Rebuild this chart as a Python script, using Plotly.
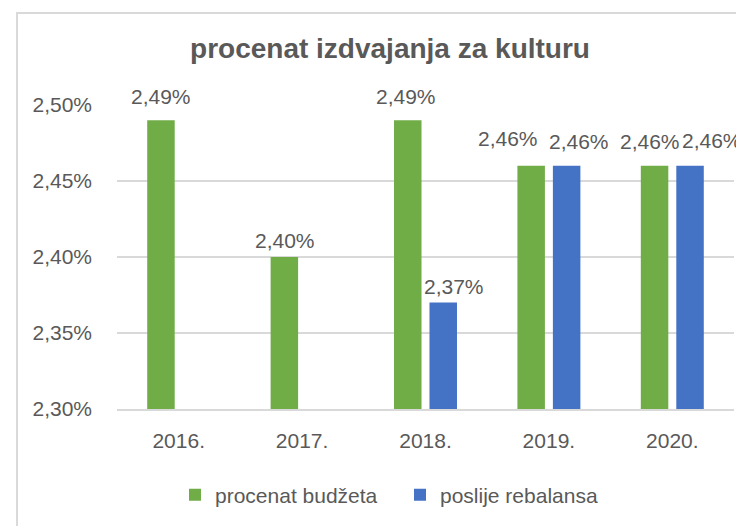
import plotly.graph_objects as go

# data
years = ["2016.", "2017.", "2018.", "2019.", "2020."]
procenat_budzeta = [0.0249, 0.0240, 0.0249, 0.0246, 0.0246]
poslije_rebalansa = [None, None, 0.0237, 0.0246, 0.0246]

Y_MIN, Y_MAX = 0.0230, 0.0250
GREEN, BLUE = "#70AD47", "#4472C4"
TEXT, GRID = "#595959", "#D9D9D9"
FONT = "Liberation Sans"

# page body has an 8px margin, so the figure is 8px smaller and offsets are shifted
W, H = 736, 518
SLOT = 17.5  # px from group centre to each bar centre

# label nudges in px (Excel pushes colliding labels apart)
green_dx = [0, 0, -2, -23, -5]
green_dy = [24, 17, 24, 27, 24]
blue_dx = [0, 0, 11, 13, 22]
blue_dy = [0, 0, 16, 24, 25]


def pct(v):
    return f"{v * 100:.2f}%".replace(".", ",")


def bar(name, vals, color):
    return go.Bar(
        name=name, x=years,
        y=[None if v is None else v - Y_MIN for v in vals], base=Y_MIN,
        marker_color=color, marker_line_width=0, hoverinfo="skip",
    )


fig = go.Figure([
    bar("procenat budžeta", procenat_budzeta, GREEN),
    bar("poslije rebalansa", poslije_rebalansa, BLUE),
])

# "2016." looks numeric, so annotations are placed by category index
labels = []
for vals, side, dxs, dys in [(procenat_budzeta, -1, green_dx, green_dy),
                             (poslije_rebalansa, 1, blue_dx, blue_dy)]:
    for i, (v, dx, dy) in enumerate(zip(vals, dxs, dys)):
        if v is None:
            continue
        labels.append(dict(x=i, y=v, xref="x", yref="y", text=pct(v), showarrow=False,
                           xshift=side * SLOT + dx, yshift=dy, yanchor="middle",
                           font=dict(size=21, color=TEXT, family=FONT)))

fig.update_layout(
    width=W, height=H,
    paper_bgcolor="white", plot_bgcolor="white",
    font=dict(family=FONT, color=TEXT, size=21),
    separators=",.",
    margin=dict(l=109, r=10, t=97, b=117),
    barmode="group", bargap=0.425, bargroupgap=0.225,
    title=dict(text="<b>procenat izdvajanja za kulturu</b>", font=dict(size=28, color=TEXT, family=FONT),
               x=382 / W, xanchor="center", xref="container", y=1 - 40 / H, yanchor="middle"),
    xaxis=dict(type="category", range=[-0.5, len(years) - 0.5], showgrid=False, showline=True,
               linecolor=GRID, linewidth=1.5, ticks="", ticklabelstandoff=12, tickfont=dict(size=21)),
    yaxis=dict(range=[Y_MIN, Y_MAX], dtick=0.0005, tickformat=".2%", gridcolor=GRID, gridwidth=1.5,
               zeroline=False, showline=False, ticks="", ticklabelstandoff=24, tickfont=dict(size=21)),
    legend=dict(orientation="h", x=0.094, xanchor="left", y=-0.283, yanchor="middle",
                entrywidth=180, font=dict(size=21), bgcolor="rgba(0,0,0,0)"),
    annotations=labels,
    shapes=[dict(type="rect", xref="paper", yref="paper", x0=-0.162, x1=1.06, y0=-0.45, y1=1.3026,
                 line=dict(color=GRID, width=2), fillcolor="rgba(0,0,0,0)", layer="below")],
    showlegend=True,
)

fig.write_html("out.html")
